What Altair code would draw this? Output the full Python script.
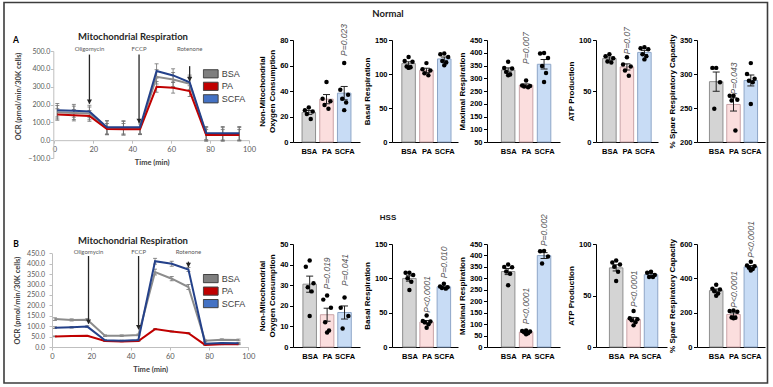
import altair as alt
import pandas as pd

GROUPS = ["BSA", "PA", "SCFA"]

# ---------------- Seahorse OCR traces (pmol/min/30K cells) ----------------
time_min = [1.5, 10, 18, 27, 35.5, 44, 52.5, 61, 69.5, 78, 86.5, 95]

normal_bsa = [157, 153, 150, 69, 67, 67, 355, 340, 316, 32, 32, 33]
normal_pa = [144, 140, 136, 62, 61, 61, 299, 294, 275, 29, 29, 29]
normal_scfa = [168, 165, 161, 73, 72, 72, 388, 363, 325, 40, 39, 39]
normal_bsa_err = [38, 38, 36, 38, 38, 36, 40, 40, 40, 38, 38, 38]
normal_pa_err = [32, 32, 30, 32, 32, 30, 30, 30, 30, 30, 30, 30]
normal_scfa_err = [38, 36, 35, 38, 37, 36, 40, 37, 40, 37, 38, 38]

hss_bsa = [134, 130, 131, 54, 54, 58, 360, 328, 288, 30, 35, 34]
hss_pa = [51, 53, 54, 29, 27, 29, 86, 75, 66, 10, 13, 13]
hss_scfa = [93, 95, 98, 32, 30, 34, 412, 400, 372, 16, 19, 18]
hss_bsa_err = [6, 5, 5, 4, 4, 4, 14, 10, 12, 4, 4, 4]
hss_pa_err = [2, 2, 2, 2, 2, 2, 3, 3, 3, 2, 2, 2]
hss_scfa_err = [4, 4, 4, 3, 3, 3, 14, 12, 10, 3, 3, 3]

injections = ["Oligomycin", "FCCP", "Rotenone"]
normal_inj_time = [18, 43.5, 69.5]
normal_inj_top = [480, 480, 415]
normal_inj_tip = [204, 97, 330]
normal_inj_label = 511
hss_inj_time = [18.6, 44.1, 69.5]
hss_inj_top = [437, 437, 410]
hss_inj_tip = [112, 85, 384]
hss_inj_label = 458

# ---------------- replicate dots for bar panels ----------------
n_nonmito = {"BSA": [27, 25, 24, 22, 18], "PA": [47, 34, 32, 29, 26], "SCFA": [62, 41, 37, 34, 31, 25]}
n_basal = {"BSA": [125, 119, 118, 111, 110, 109], "PA": [116, 107, 105, 101, 98], "SCFA": [130, 129, 125, 119, 117, 113]}
n_max = {"BSA": [365, 340, 338, 325, 315, 312], "PA": [291, 272, 270, 268, 265], "SCFA": [399, 397, 379, 348, 321, 285]}
n_atp = {"BSA": [86, 84, 82, 79, 78], "PA": [83, 76, 74, 70, 65], "SCFA": [93, 92, 91, 86, 84, 81]}
n_src = {"BSA": [309, 309, 288, 249], "PA": [268, 268, 262, 261, 217], "SCFA": [316, 300, 293, 290, 288, 256]}

h_nonmito = {"BSA": [42, 39, 31, 29, 27, 15], "PA": [25, 23, 19, 12, 8, 7], "SCFA": [24, 19, 15, 9]}
h_basal = {"BSA": [108, 108, 105, 100, 95, 83], "PA": [46, 38, 37, 36, 33, 28], "SCFA": [92, 88, 87, 86, 85]}
h_max = {"BSA": [360, 350, 348, 330, 320, 270], "PA": [72, 70, 68, 64, 60, 56], "SCFA": [420, 418, 395, 365]}
h_atp = {"BSA": [84, 82, 80, 78, 73, 64], "PA": [35, 28, 27, 26, 24, 21], "SCFA": [73, 72, 70, 68, 68]}
h_src = {"BSA": [362, 340, 335, 325, 312, 298], "PA": [213, 210, 205, 172, 170, 168], "SCFA": [496, 475, 470, 462, 455, 445]}

# P-value labels: (group, text, value where the label starts)
n_nonmito_p = [("SCFA", "P=0.023", 67.5)]
n_max_p = [("PA", "P=0.007", 356)]
n_atp_p = [("PA", "P=0.07", 86)]
n_src_p = [("PA", "P=0.043", 270)]
h_nonmito_p = [("PA", "P=0.019", 28), ("SCFA", "P=0.041", 29.6)]
h_basal_p = [("PA", "P<0.0001", 50), ("SCFA", "P=0.010", 100)]
h_max_p = [("PA", "P<0.0001", 99), ("SCFA", "P=0.002", 441)]
h_atp_p = [("PA", "P<0.0001", 38.8)]
h_src_p = [("PA", "P<0.0001", 229), ("SCFA", "P<0.0001", 520)]

# ---------------- styles ----------------
FONT = "Liberation Sans"
XL = "Lato"
BAR_FILL = ["#d4d4d4", "#fbdede", "#c8dcf5"]
BAR_EDGE = ["#8f8f8f", "#c9a3a7", "#8ea6c7"]
LINE_COLORS = ["#8c8c8c", "#c00000", "#24418a"]
LEGEND_FILLS = ["#7f7f7f", "#c00000", "#4472c4"]
LEGEND_SWATCH = "M-1,-0.55H1V0.55H-1Z"
JIT = [0.0, -0.22, 0.22, -0.11, 0.11, 0.0, -0.22]


def text_layer(txt, x, y, size, font=XL, weight="bold", color="black", align="center"):
    return alt.Chart(pd.DataFrame({"label": [txt]})).mark_text(
        font=font, fontSize=size, fontWeight=weight, color=color, align=align, baseline="middle"
    ).encode(x=alt.value(x), y=alt.value(y), text="label:N")


def trace_panel(vals, errs, inj_time, inj_top, inj_tip, inj_label_y, ydom, yrange, yvals,
                xrange, xoff, yoff, ylabpad, height, legend_y, legend_row, letter, frame,
                ytitle_y=None):
    rows = []
    for g, v, e in zip(GROUPS, vals, errs):
        for t, vv, ee in zip(time_min, v, e):
            rows.append({"series": g, "t": t, "v": vv, "lo": vv - ee, "hi": vv + ee})
    df = pd.DataFrame(rows)
    caps = pd.concat([df.assign(cap=df["lo"]), df.assign(cap=df["hi"])])

    xs = alt.Scale(domain=[0, 100], range=xrange, nice=False, zero=False)
    ys = alt.Scale(domain=ydom, range=yrange, nice=False, zero=False)
    xaxis = alt.Axis(values=[0, 20, 40, 60, 80, 100], format="d", title="Time (min)", offset=xoff,
                     labelFont=XL, labelFontSize=7.5, labelColor="#595959", labelPadding=2,
                     labelFlush=False, labelOverlap=False,
                     tickSize=3, tickColor="#bfbfbf", domainColor="#bfbfbf",
                     titleFont=XL, titleFontSize=7.5, titleFontWeight="bold", titleColor="#404040",
                     titlePadding=6, grid=False)
    ykw = dict(values=yvals, format=".1f", title="OCR (pmol/min/30K cells)", offset=yoff,
               labelFont=XL, labelFontSize=7, labelColor="#595959", labelPadding=ylabpad,
               labelFlush=False, labelOverlap=False,
               tickSize=3, tickColor="#bfbfbf", domainColor="#bfbfbf",
               titleFont=XL, titleFontSize=7.5, titleFontWeight="bold", titleColor="#404040",
               titlePadding=5, grid=False)
    if ytitle_y is not None:
        ykw["titleY"] = ytitle_y
    yaxis = alt.Axis(**ykw)

    def X(f):
        return alt.X(f, scale=xs, axis=xaxis)

    def Y(f):
        return alt.Y(f, scale=ys, axis=yaxis)

    layers = []
    if frame:
        layers.append(alt.Chart(pd.DataFrame({"k": [0]})).mark_rect(
            fillOpacity=0, stroke="#3c3c3c", strokeWidth=1.6
        ).encode(x=alt.value(-48), x2=alt.value(715.5), y=alt.value(-37.5), y2=alt.value(343)))

    layers.append(alt.Chart(df).mark_rule(color="#707070", strokeWidth=0.8).encode(
        x=X("t:Q"), y=Y("lo:Q"), y2="hi:Q"))
    layers.append(alt.Chart(caps).mark_tick(orient="horizontal", size=4, thickness=0.8,
                                            color="#707070", opacity=1).encode(
        x=X("t:Q"), y=Y("cap:Q")))
    for g, c in zip(GROUPS, LINE_COLORS):
        layers.append(alt.Chart(df[df["series"] == g]).mark_line(strokeWidth=2, color=c).encode(
            x=X("t:Q"), y=Y("v:Q"), order="t:Q"))
    leg = alt.Legend(title=None, orient="none", legendX=150.7, legendY=legend_y,
                     symbolType=LEGEND_SWATCH, symbolSize=220, symbolStrokeWidth=1,
                     symbolOpacity=1, labelFont=FONT, labelFontSize=9, clipHeight=legend_row,
                     labelColor="#404040", rowPadding=0.5, labelOffset=3, padding=0)
    layers.append(alt.Chart(df).mark_square(size=0, filled=True, opacity=1, stroke="#404040",
                                            strokeWidth=1).encode(
        x=X("t:Q"), y=Y("v:Q"),
        fill=alt.Fill("series:N", scale=alt.Scale(domain=GROUPS, range=LEGEND_FILLS), legend=leg)))

    adf = pd.DataFrame({"name": injections, "t": inj_time, "top": inj_top, "tip": inj_tip,
                        "ly": [inj_label_y] * 3})
    layers.append(alt.Chart(adf).mark_rule(color="#262626", strokeWidth=1.3).encode(
        x=X("t:Q"), y=Y("top:Q"), y2="tip:Q"))
    layers.append(alt.Chart(adf).mark_point(shape="triangle-down", filled=True, size=26,
                                            color="#262626", opacity=1, yOffset=-2).encode(
        x=X("t:Q"), y=Y("tip:Q")))
    layers.append(alt.Chart(adf).mark_text(font=XL, fontSize=6, color="#595959").encode(
        x=X("t:Q"), y=Y("ly:Q"), text="name:N"))

    layers.append(text_layer("Mitochondrial Respiration", 81, -3.5, 9.5, color="#262626"))
    layers.append(text_layer(letter, -36, 0, 8.5))
    return alt.layer(*layers).properties(width=241, height=height)


def bar_panel(dots, ytitle, ydom, yvals, xdom, plotw, cellw, height, pvals, notes=()):
    rows = []
    for gi, g in enumerate(GROUPS):
        for k, v in enumerate(sorted(dots[g], reverse=True)):
            rows.append({"group": g, "xi": gi + JIT[k % len(JIT)], "value": v})
    ddf = pd.DataFrame(rows)
    st = ddf.groupby("group")["value"].agg(["mean", "sem"]).reindex(GROUPS).reset_index()
    st["xi"] = range(3)
    st["lo"] = st["mean"] - st["sem"]
    st["hi"] = st["mean"] + st["sem"]
    st["base"] = ydom[0]
    caps = pd.concat([st.assign(cap=st["lo"]), st.assign(cap=st["hi"])])

    xs = alt.Scale(domain=xdom, range=[0, plotw], nice=False, zero=False)
    ys = alt.Scale(domain=ydom, nice=False, zero=False)
    xaxis = alt.Axis(values=[0, 1, 2], labelExpr="['BSA','PA','SCFA'][datum.value]", title=None,
                     ticks=False, labelFont=FONT, labelFontWeight="bold", labelFontSize=7.5,
                     labelColor="black", labelPadding=5, labelOverlap=False, labelFlush=False,
                     domainColor="black", domainWidth=1, grid=False)
    yaxis = alt.Axis(values=yvals, title=ytitle, labelFont=FONT, labelFontWeight="bold",
                     labelFontSize=7.5, labelColor="black", labelPadding=1.5, labelOverlap=False,
                     labelFlush=False, tickSize=3.5, tickColor="black", tickWidth=1,
                     domainColor="black", domainWidth=1, titleFont=FONT, titleFontWeight="bold",
                     titleFontSize=8, titleColor="black", titlePadding=3, grid=False)

    def X(f):
        return alt.X(f, scale=xs, axis=xaxis)

    def Y(f):
        return alt.Y(f, scale=ys, axis=yaxis)

    layers = [
        alt.Chart(st).mark_bar(size=13.5, strokeWidth=1).encode(
            x=X("xi:Q"), y=Y("mean:Q"), y2="base:Q",
            fill=alt.Fill("group:N", scale=alt.Scale(domain=GROUPS, range=BAR_FILL), legend=None),
            stroke=alt.Stroke("group:N", scale=alt.Scale(domain=GROUPS, range=BAR_EDGE), legend=None)),
        alt.Chart(st).mark_rule(color="#222222", strokeWidth=1).encode(
            x=X("xi:Q"), y=Y("lo:Q"), y2="hi:Q"),
        alt.Chart(caps).mark_tick(orient="horizontal", size=7, thickness=1, color="#222222",
                                  opacity=1).encode(x=X("xi:Q"), y=Y("cap:Q")),
        alt.Chart(ddf).mark_circle(size=20, color="black", opacity=1).encode(
            x=X("xi:Q"), y=Y("value:Q")),
    ]
    if pvals:
        pdf = pd.DataFrame(pvals, columns=["group", "label", "anchor"])
        pdf["xi"] = pdf["group"].map({g: i for i, g in enumerate(GROUPS)})
        layers.append(alt.Chart(pdf).mark_text(angle=270, align="left", baseline="middle", font=FONT,
                                               fontStyle="italic", fontSize=8.5, color="#555555").encode(
            x=X("xi:Q"), y=Y("anchor:Q"), text="label:N"))
    for (txt, x, y, size, font) in notes:
        layers.append(text_layer(txt, x, y, size, font=font, color="#1a1a1a"))
    return alt.layer(*layers).properties(width=cellw, height=height)


NONMITO_T = ["Non-Mitochondrial", "Oxygen Consumption"]

row_a = [
    trace_panel([normal_bsa, normal_pa, normal_scfa], [normal_bsa_err, normal_pa_err, normal_scfa_err],
                normal_inj_time, normal_inj_top, normal_inj_tip, normal_inj_label,
                [-100, 500], [118, 11], [-100, 0, 100, 200, 300, 400, 500],
                [2.4, 197], -17.83, -1.3, 0.5, 118, 27.8, 12, "A", True, ytitle_y=56),
    bar_panel(n_nonmito, NONMITO_T, [0, 80], [0, 20, 40, 60, 80], [-0.61, 2.61], 67, 99, 102, n_nonmito_p),
    bar_panel(n_basal, "Basal Respiration", [0, 150], [0, 50, 100, 150], [-0.65, 2.49], 66, 95, 102, [],
              notes=[("Normal", -4, -26, 9.5, XL)]),
    bar_panel(n_max, "Maximal Respiration", [50, 450], [50, 100, 150, 200, 250, 300, 350, 400, 450],
              [-0.9, 2.61], 73, 109, 102, n_max_p),
    bar_panel(n_atp, "ATP Production", [0, 100], [0, 50, 100], [-0.48, 2.49], 62, 94, 102, n_atp_p),
    bar_panel(n_src, "% Spare Respiratory Capacity", [200, 350], [200, 250, 300, 350],
              [-0.82, 2.53], 68, 68, 102, n_src_p),
]

row_b = [
    trace_panel([hss_bsa, hss_pa, hss_scfa], [hss_bsa_err, hss_pa_err, hss_scfa_err],
                hss_inj_time, hss_inj_top, hss_inj_tip, hss_inj_label,
                [0, 450], [103, 9.3], [0, 50, 100, 150, 200, 250, 300, 350, 400, 450],
                [0, 196.3], 0, 0, 4.5, 103, 29, 11.2, "B", False),
    bar_panel(h_nonmito, NONMITO_T, [0, 50], [0, 10, 20, 30, 40, 50], [-0.67, 2.6], 67, 99, 103, h_nonmito_p),
    bar_panel(h_basal, "Basal Respiration", [0, 150], [0, 50, 100, 150], [-0.72, 2.53], 66, 95, 103, h_basal_p,
              notes=[("HSS", -4, -26.3, 8, FONT)]),
    bar_panel(h_max, "Maximal Respiration", [0, 450], [0, 50, 100, 150, 200, 250, 300, 350, 400, 450],
              [-0.9, 2.61], 73, 102, 103, h_max_p),
    bar_panel(h_atp, "ATP Production", [0, 100], [0, 50, 100], [-0.87, 2.63], 71, 101, 103, h_atp_p),
    bar_panel(h_src, "% Spare Respiratory Capacity", [0, 600], [0, 200, 400, 600],
              [-0.82, 2.53], 68, 68, 103, h_src_p),
]

chart = alt.concat(
    *(row_a + row_b), columns=6,
    spacing={"row": 86, "column": 0}, bounds="flush", align={"row": "each", "column": "none"}
).resolve_scale(
    fill="independent", stroke="independent"
).resolve_legend(
    fill="independent", stroke="independent"
).properties(
    padding={"left": 3, "top": 1, "right": 3, "bottom": 3}, background="white"
).configure_view(strokeWidth=0).configure_axis(grid=False)

chart.save("out.html", embed_options={"renderer": "svg", "actions": False})
